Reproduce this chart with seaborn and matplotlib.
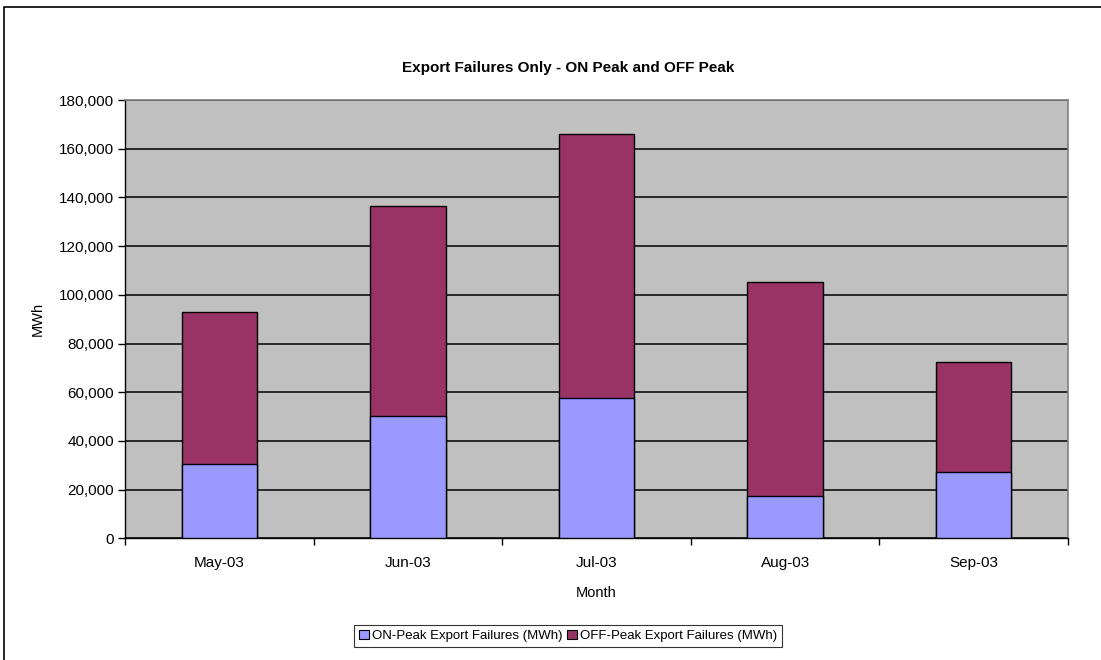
import matplotlib
matplotlib.use("Agg")
import matplotlib.pyplot as plt
import seaborn as sns
import pandas as pd
import numpy as np
from matplotlib.patches import Patch, Rectangle
from matplotlib.ticker import FuncFormatter, MultipleLocator, FixedLocator

months = ["May-03", "Jun-03", "Jul-03", "Aug-03", "Sep-03"]
on_peak = [30400, 50400, 57800, 17200, 27200]
off_peak = [62400, 86100, 108200, 88200, 45300]

on_label = "ON-Peak Export Failures (MWh)"
off_label = "OFF-Peak Export Failures (MWh)"

sns.set_style("white")
plt.rcParams['font.family'] = ['Liberation Sans', 'DejaVu Sans']
plt.rcParams['text.color'] = 'black'
plt.rcParams['axes.labelcolor'] = 'black'

df = pd.DataFrame({"Month": months, "ON": on_peak, "OFF": off_peak})
df["Total"] = df["ON"] + df["OFF"]

fig = plt.figure(figsize=(11.01, 6.6), dpi=100)
ax = fig.add_axes([125/1101, 1 - 538.3/660, (1068-125)/1101, (538.3-100)/660])
ax.set_facecolor("#C0C0C0")

on_c = "#9999FF"
off_c = "#993366"

sns.barplot(data=df, x="Month", y="Total", color=off_c, width=0.4,
            edgecolor="black", linewidth=1.0, saturation=1, ax=ax, zorder=3)
sns.barplot(data=df, x="Month", y="ON", color=on_c, width=0.4,
            edgecolor="black", linewidth=1.0, saturation=1, ax=ax, zorder=4)

ax.set_xlim(-0.5, 4.5)
ax.set_ylim(0, 180000)
ax.yaxis.set_major_locator(MultipleLocator(20000))
ax.yaxis.set_major_formatter(FuncFormatter(lambda v, p: f"{int(v):,}"))
ax.yaxis.grid(True, color="black", linewidth=1.1, zorder=1)
ax.set_axisbelow(True)

ax.xaxis.set_minor_locator(FixedLocator(np.arange(-0.5, 5.0, 1.0)))
ax.tick_params(axis="x", which="major", length=0, labelsize=11, pad=13, colors="black")
ax.tick_params(axis="x", which="minor", length=5, width=1, direction="out", color="black", bottom=True)
ax.tick_params(axis="y", which="major", length=5, width=1, direction="out", labelsize=11, pad=3, left=True, colors="black")

for s in ["top", "right"]:
    ax.spines[s].set_color("#808080")
    ax.spines[s].set_linewidth(1.2)
for s in ["left", "bottom"]:
    ax.spines[s].set_color("black")
    ax.spines[s].set_linewidth(1.0)

ax.set_xlabel("Month", fontsize=10.5, labelpad=11)
ax.set_ylabel("MWh", fontsize=10.5, labelpad=10)

fig.text(568/1101, 1 - 68/660, "Export Failures Only - ON Peak and OFF Peak",
         ha="center", va="center", fontsize=11, fontweight="bold", color="black")

handles = [Patch(facecolor=on_c, edgecolor="black", linewidth=0.8, label=on_label),
           Patch(facecolor=off_c, edgecolor="black", linewidth=0.8, label=off_label)]
leg = fig.legend(handles=handles, loc="center", bbox_to_anchor=(568/1101, 1 - 636/660),
                 ncol=2, fontsize=9.5, frameon=True, fancybox=False,
                 handlelength=0.75, handleheight=0.75, handletextpad=0.2,
                 columnspacing=0.4, borderpad=0.35, borderaxespad=0)
leg.get_frame().set_edgecolor("black")
leg.get_frame().set_linewidth(0.8)

fig.patches.append(Rectangle((4/1101, -0.1), 1.2, 1 - 7/660 + 0.1, transform=fig.transFigure,
                             fill=False, edgecolor="black", linewidth=1.2))

fig.savefig("out.png", dpi=100, facecolor="white")
